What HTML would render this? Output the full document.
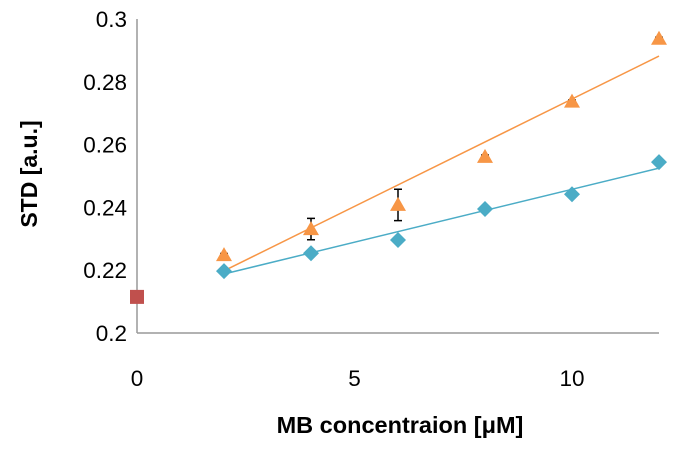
<!DOCTYPE html>
<html><head><meta charset="utf-8"><style>
html,body{margin:0;padding:0;background:#fff;}
svg{display:block;font-family:"Liberation Sans",sans-serif;}
</style></head><body>
<svg id="chart" width="674" height="449">
<g id="axes"></g><g id="marks"></g>
<text x="37" y="174" transform="rotate(-90 37 174)" text-anchor="middle" font-size="23" font-weight="bold" fill="#000">STD [a.u.]</text>
<text x="400" y="433" text-anchor="middle" font-size="23.5" font-weight="bold" fill="#000">MB concentraion [μM]</text>
</svg>
<script>
const xTicks=[0,5,10];
const yTicks=[0.2,0.22,0.24,0.26,0.28,0.3];
const yTickLabels=["0.2","0.22","0.24","0.26","0.28","0.3"];
const blankX=[0];
const blankY=[0.2115];
const blueX=[2,4,6,8,10,12];
const blueY=[0.2197,0.2254,0.2296,0.2395,0.2442,0.2544];
const blueFit=[0.2188,0.2525];
const orangeX=[2,4,6,8,10,12];
const orangeY=[0.2248,0.2331,0.2408,0.2561,0.2737,0.2937];
const orangeErr=[0.0005,0.0034,0.005,0.0006,0.0005,0.0005];
const orangeFit=[0.2198,0.2882];
const fitX=[2,12];

const NS="http://www.w3.org/2000/svg";
const sx=v=>137+v*43.5;
const sy=v=>333-(v-0.2)*3140;
function mk(tag,attrs,parent){const e=document.createElementNS(NS,tag);for(const k in attrs)e.setAttribute(k,attrs[k]);parent.appendChild(e);return e;}
const axes=document.getElementById('axes'),marks=document.getElementById('marks');
let a=mk('line',{x1:137,y1:19,x2:137,y2:333,stroke:'#999','stroke-width':1.5},axes);


a=mk('line',{x1:137,y1:333,x2:659,y2:333,stroke:'#999','stroke-width':1.5},axes);


yTicks.forEach((v,i)=>{const t=mk('text',{x:127,y:sy(v)+8,'text-anchor':'end','font-size':22.5},axes);t.textContent=yTickLabels[i];

});
xTicks.forEach(v=>{const t=mk('text',{x:sx(v),y:386,'text-anchor':'middle','font-size':22.5},axes);t.textContent=String(v);

});
let l=mk('line',{x1:sx(fitX[0]),y1:sy(orangeFit[0]),x2:sx(fitX[1]),y2:sy(orangeFit[1]),stroke:'#f79646','stroke-width':1.5},marks);


l=mk('line',{x1:sx(fitX[0]),y1:sy(blueFit[0]),x2:sx(fitX[1]),y2:sy(blueFit[1]),stroke:'#4bacc6','stroke-width':1.5},marks);


blankX.forEach((x,i)=>{const r=mk('rect',{x:sx(x)-7,y:sy(blankY[i])-7,width:14,height:14,fill:'#c0504d'},marks);

});
blueX.forEach((x,i)=>{const cx=sx(x),cy=sy(blueY[i]);const p=mk('polygon',{points:`${cx},${cy-8} ${cx+8},${cy} ${cx},${cy+8} ${cx-8},${cy}`,fill:'#4bacc6'},marks);

});
orangeX.forEach((x,i)=>{const cx=sx(x),cy=sy(orangeY[i]);
const y1=sy(orangeY[i]+orangeErr[i]),y2=sy(orangeY[i]-orangeErr[i]);
const g=mk('path',{d:`M${cx},${y1}V${y2}M${cx-4},${y1}H${cx+4}M${cx-4},${y2}H${cx+4}`,stroke:'#000','stroke-width':1.5,fill:'none'},marks);


const p=mk('polygon',{points:`${cx},${cy-8} ${cx+8},${cy+6} ${cx-8},${cy+6}`,fill:'#f79646'},marks);

});
</script>
</body></html>
